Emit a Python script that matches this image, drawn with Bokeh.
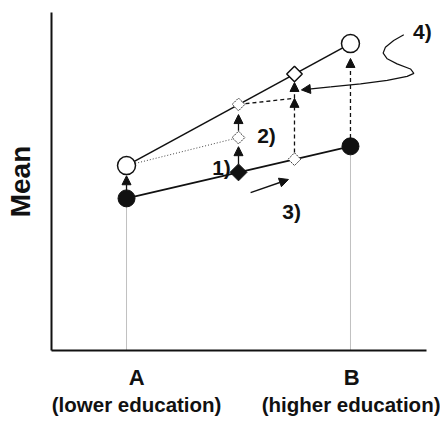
import numpy as np
from bokeh.plotting import figure
from bokeh.models import Range1d, FixedTicker, LinearAxis, Arrow, NormalHead
from bokeh.core.properties import value
from bokeh.embed import file_html
from bokeh.resources import INLINE

# ---------------- data ----------------
groups = ["A", "B"]
group_notes = ["(lower education)", "(higher education)"]
group_x = [0.0, 1.0]
group_label_x = [0.045, 1.005]   # where the group captions sit
mean_lower = [4.50, 6.04]   # filled circles
mean_upper = [5.47, 9.08]   # open circles

# intermediate steps
# 0 black diamond, 1 middle dotted diamond, 2 upper dotted diamond,
# 3 lower dotted diamond, 4 open diamond
step_x = [0.5, 0.5, 0.5, 0.75, 0.75]
step_y = [5.27, 6.30, 7.28, 5.66, 8.18]
link_end_y = 7.46           # end of the dashed link at x = 0.75

step_labels = ["1)", "2)", "3)", "4)"]
label_x = [0.424, 0.625, 0.737, 1.321]
label_y = [5.41, 6.36, 4.11, 9.44]

shift_x = [0.554, 0.723]    # arrow next to "3)"
shift_y = [4.67, 5.06]

curve_x = [1.238, 1.193, 1.156, 1.146, 1.164, 1.208, 1.268, 1.283, 1.253, 1.164, 1.045, 0.911, 0.781]
curve_y = [9.34, 9.17, 8.97, 8.80, 8.63, 8.48, 8.33, 8.20, 8.11, 7.99, 7.89, 7.80, 7.71]

X_AXIS_END = 1.339

FONT = "Liberation Sans"
INK = "#111111"

p = figure(width=440, height=419, x_range=Range1d(-0.335, 1.402), y_range=Range1d(0, 10),
           output_backend="svg", toolbar_location=None,
           min_border_left=51, min_border_top=12, min_border_right=0, min_border_bottom=69)
p.grid.visible = False
p.outline_line_color = None
p.background_fill_color = "white"

# y axis
p.yaxis.ticker = FixedTicker(ticks=[])
p.yaxis.axis_label = "Mean"
p.yaxis.axis_label_text_font = FONT
p.yaxis.axis_label_text_font_style = "bold"
p.yaxis.axis_label_text_font_size = "28px"
p.yaxis.axis_label_text_color = INK
p.yaxis.axis_label_standoff = 16
p.yaxis.major_label_standoff = 0
p.yaxis.axis_line_width = 2
p.yaxis.axis_line_color = INK
p.yaxis.major_tick_line_color = None
p.yaxis.minor_tick_line_color = None
p.yaxis.major_tick_out = 0
p.yaxis.major_tick_in = 0
p.yaxis.minor_tick_out = 0

# x axis: group letters
xa = p.xaxis[0]
xa.bounds = (-0.335, X_AXIS_END)
xa.ticker = FixedTicker(ticks=group_label_x)
xa.major_label_overrides = {x: g for x, g in zip(group_label_x, groups)}
xa.major_label_text_font = FONT
xa.major_label_text_font_style = "bold"
xa.major_label_text_font_size = "22px"
xa.major_label_text_color = INK
xa.major_label_standoff = 14
xa.axis_line_width = 2
xa.axis_line_color = INK
xa.major_tick_line_color = None
xa.minor_tick_line_color = None
xa.major_tick_out = 0
xa.major_tick_in = 0
xa.minor_tick_out = 0

# x axis: group descriptions
xb = LinearAxis(ticker=FixedTicker(ticks=group_label_x),
                major_label_overrides={x: n for x, n in zip(group_label_x, group_notes)})
xb.major_label_text_font = FONT
xb.major_label_text_font_style = "bold"
xb.major_label_text_font_size = "20.5px"
xb.major_label_text_color = INK
xb.major_label_standoff = 0
xb.axis_line_color = None
xb.major_tick_line_color = None
xb.minor_tick_line_color = None
xb.major_tick_out = 0
xb.major_tick_in = 0
xb.minor_tick_out = 0
p.add_layout(xb, "below")

# grey dotted drop lines
p.segment(x0=group_x, y0=[0, 0], x1=group_x, y1=mean_lower,
          line_color="#808080", line_width=1, line_dash="1 1")

# main lines
p.line(group_x, mean_lower, line_color=INK, line_width=1.6)
p.line(group_x, mean_upper, line_color=INK, line_width=1.6)

# dotted link A-upper -> middle dotted diamond
p.line([group_x[0], step_x[1]], [mean_upper[0], step_y[1]],
       line_color="#444444", line_width=1, line_dash="1 2")
# dashed link upper dotted diamond -> x=0.75
p.line([step_x[2], step_x[3]], [step_y[2], link_end_y],
       line_color=INK, line_width=1.3, line_dash="4 3")

def head():
    return NormalHead(size=9, fill_color=INK, line_color=INK, line_width=1)

def arrow(x0, y0, x1, y1, dash="solid", lw=1.3):
    p.add_layout(Arrow(end=head(), x_start=x0, y_start=y0, x_end=x1, y_end=y1,
                       line_color=INK, line_width=lw, line_dash=dash))

# vertical arrows
arrow(group_x[0], mean_lower[0] + 0.25, group_x[0], mean_upper[0] - 0.30)
arrow(step_x[0], step_y[0] + 0.25, step_x[1], step_y[1] - 0.27)
arrow(step_x[1], step_y[1] + 0.20, step_x[2], step_y[2] - 0.30)
arrow(step_x[3], step_y[3] + 0.20, step_x[3], link_end_y, dash="4 3")
arrow(step_x[3], link_end_y, step_x[4], step_y[4] - 0.25, dash="4 3")
arrow(group_x[1], mean_lower[1] + 0.25, group_x[1], mean_upper[1] - 0.44, dash="4 3")
# arrow near 3)
arrow(shift_x[0], shift_y[0], shift_x[1], shift_y[1], lw=1.5)
# curve from 4)
p.line(curve_x[:-1], curve_y[:-1], line_color=INK, line_width=1.2)
arrow(curve_x[-2], curve_y[-2], curve_x[-1], curve_y[-1], lw=1.2)

# markers
p.scatter(group_x, mean_lower, marker="circle", size=17, fill_color=INK, line_color=INK)
p.scatter(group_x, mean_upper, marker="circle", size=18, fill_color="white",
          line_color=INK, line_width=1.5)
p.scatter([step_x[0]], [step_y[0]], marker="square", angle=np.pi / 4, size=12,
          fill_color=INK, line_color=INK)
p.scatter([step_x[i] for i in (1, 2, 3)], [step_y[i] for i in (1, 2, 3)],
          marker="square", angle=np.pi / 4, size=9, fill_color="white",
          line_color="#333333", line_width=1, line_dash="2 1")
p.scatter([step_x[4]], [step_y[4]], marker="square", angle=np.pi / 4, size=11,
          fill_color="white", line_color=INK, line_width=1.5)

# step labels
p.text(x=label_x, y=label_y, text=step_labels, text_font=value(FONT),
       text_font_style="bold", text_font_size="21px", text_color=INK,
       text_align="center", text_baseline="middle")

open("out.html", "w").write(file_html(p, INLINE))
